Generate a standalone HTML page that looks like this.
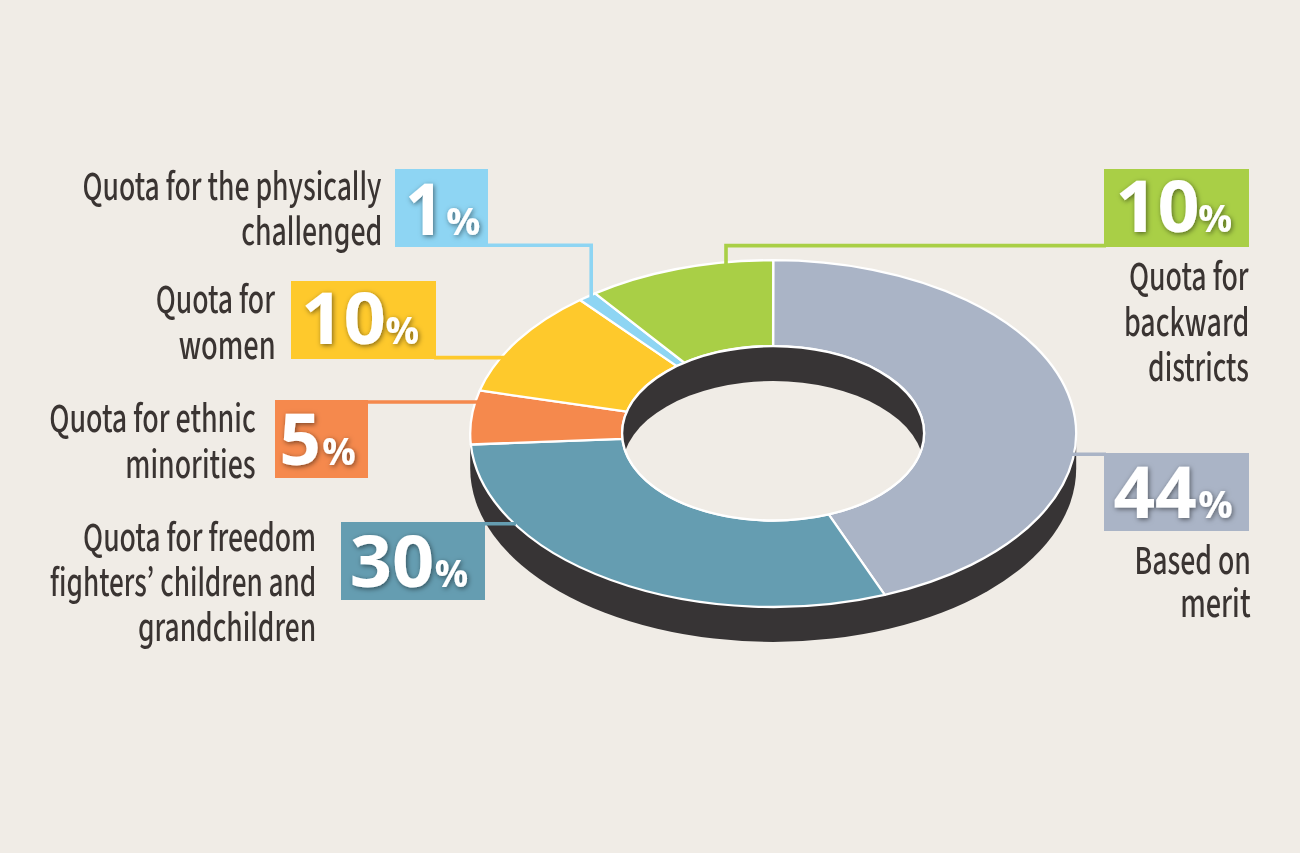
<!DOCTYPE html>
<html><head><meta charset="utf-8"><title>Quota distribution</title>
<style>
html,body{margin:0;padding:0;background:#f0ece6;}
body{width:1300px;height:853px;overflow:hidden;}
svg{display:block;will-change:transform;}
.lbl{font-family:"Source Sans 3","PT Sans Narrow","Liberation Sans",sans-serif;font-size:42.5px;font-weight:500;font-feature-settings:'cv03','cv04';fill:#3a3432;}
.num{font-family:"Open Sans","Source Sans 3","Liberation Sans",sans-serif;font-weight:700;font-size:72px;fill:#fff;}
.pct{font-size:37px;}
</style></head><body>
<svg width="1300" height="853" viewBox="0 0 1300 853">
<rect width="1300" height="853" fill="#f0ece6"/>
<path d="M470.20,433.60 L470.20,468.60 A303.0,173.4 0 0 0 1076.20,468.60 L1076.20,433.60 Z" fill="#373435"/>
<path d="M773.20,260.20 A303.0,173.4 0 0 1 884.74,594.82 L828.69,514.38 A151.00,87.20 0 0 0 773.10,346.10 Z" fill="#aab4c6" stroke="#fff" stroke-width="2.3" stroke-linejoin="round"/>
<path d="M884.74,594.82 A303.0,173.4 0 0 1 470.80,444.49 L622.40,438.78 A151.00,87.20 0 0 0 828.69,514.38 Z" fill="#659db1" stroke="#fff" stroke-width="2.3" stroke-linejoin="round"/>
<path d="M470.80,444.49 A303.0,173.4 0 0 1 479.72,390.48 L626.84,411.61 A151.00,87.20 0 0 0 622.40,438.78 Z" fill="#f5894d" stroke="#fff" stroke-width="2.3" stroke-linejoin="round"/>
<path d="M479.72,390.48 A303.0,173.4 0 0 1 580.06,299.99 L676.85,366.11 A151.00,87.20 0 0 0 626.84,411.61 Z" fill="#fec92c" stroke="#fff" stroke-width="2.3" stroke-linejoin="round"/>
<path d="M580.06,299.99 A303.0,173.4 0 0 1 595.10,293.32 L684.34,362.75 A151.00,87.20 0 0 0 676.85,366.11 Z" fill="#8ed5f3" stroke="#fff" stroke-width="2.3" stroke-linejoin="round"/>
<path d="M595.10,293.32 A303.0,173.4 0 0 1 773.20,260.20 L773.10,346.10 A151.00,87.20 0 0 0 684.34,362.75 Z" fill="#a9cf46" stroke="#fff" stroke-width="2.3" stroke-linejoin="round"/>
<clipPath id="hole"><ellipse cx="773.1" cy="433.3" rx="151.00" ry="87.20"/></clipPath>
<ellipse cx="773.1" cy="433.3" rx="151.00" ry="87.20" fill="#373435"/>
<ellipse cx="773.1" cy="468.3" rx="151.00" ry="87.20" fill="#f0ece6" clip-path="url(#hole)"/>
<ellipse cx="773.1" cy="433.3" rx="151.00" ry="87.20" fill="none" stroke="#fff" stroke-width="2.3"/>
<polyline points="486,245.3 591.2,245.3 591.2,297" fill="none" stroke="#8ed5f3" stroke-width="3.6" stroke-linejoin="miter"/>
<polyline points="434,357.6 504,357.6" fill="none" stroke="#fec92c" stroke-width="3.6" stroke-linejoin="miter"/>
<polyline points="366,402 479,402" fill="none" stroke="#f5894d" stroke-width="3.6" stroke-linejoin="miter"/>
<polyline points="483,523.8 516,523.8" fill="none" stroke="#659db1" stroke-width="3.6" stroke-linejoin="miter"/>
<polyline points="1106,245.6 726,245.6 726,265" fill="none" stroke="#a9cf46" stroke-width="3.6" stroke-linejoin="miter"/>
<polyline points="1071,454.2 1106,454.2" fill="none" stroke="#aab4c6" stroke-width="3.6" stroke-linejoin="miter"/>
<filter id="sh" x="-20%" y="-20%" width="140%" height="140%"><feDropShadow dx="1.2" dy="1.5" stdDeviation="2.8" flood-color="#000" flood-opacity="0.5"/></filter>
<rect x="395" y="169" width="93" height="78" fill="#8ed5f3"/>
<g filter="url(#sh)"><text class="num" x="404.94" y="235" textLength="38.66" lengthAdjust="spacingAndGlyphs">1</text><text class="num pct" x="446.16" y="235" textLength="34.11" lengthAdjust="spacingAndGlyphs">%</text></g>
<rect x="291" y="281" width="145" height="78" fill="#fec92c"/>
<g filter="url(#sh)"><text class="num" x="300.94" y="344" textLength="84.92" lengthAdjust="spacingAndGlyphs">10</text><text class="num pct" x="385.48" y="344" textLength="33.68" lengthAdjust="spacingAndGlyphs">%</text></g>
<rect x="275" y="400" width="93" height="78" fill="#f5894d"/>
<g filter="url(#sh)"><text class="num" x="279.15" y="465" textLength="41.77" lengthAdjust="spacingAndGlyphs">5</text><text class="num pct" x="322.38" y="465" textLength="33.57" lengthAdjust="spacingAndGlyphs">%</text></g>
<rect x="341" y="522" width="144" height="78" fill="#659db1"/>
<g filter="url(#sh)"><text class="num" x="349.84" y="587" textLength="84.51" lengthAdjust="spacingAndGlyphs">30</text><text class="num pct" x="434.69" y="587" textLength="33.46" lengthAdjust="spacingAndGlyphs">%</text></g>
<rect x="1104" y="169" width="145" height="78" fill="#a9cf46"/>
<g filter="url(#sh)"><text class="num" x="1115.38" y="232" textLength="84.26" lengthAdjust="spacingAndGlyphs">10</text><text class="num pct" x="1198.17" y="232" textLength="34.00" lengthAdjust="spacingAndGlyphs">%</text></g>
<rect x="1104" y="453" width="145" height="78" fill="#aab4c6"/>
<g filter="url(#sh)"><text class="num" x="1113.41" y="518.3" textLength="83.35" lengthAdjust="spacingAndGlyphs">44</text><text class="num pct" x="1198.15" y="518.3" textLength="34.54" lengthAdjust="spacingAndGlyphs">%</text></g>
<text class="lbl" x="82.51" y="200" textLength="298.92" lengthAdjust="spacingAndGlyphs">Quota for the physically</text>
<text class="lbl" x="241.25" y="245" textLength="141.03" lengthAdjust="spacingAndGlyphs">challenged</text>
<text class="lbl" x="155.70" y="312.5" textLength="119.28" lengthAdjust="spacingAndGlyphs">Quota for</text>
<text class="lbl" x="178.63" y="359" textLength="97.02" lengthAdjust="spacingAndGlyphs">women</text>
<text class="lbl" x="49.19" y="431.5" textLength="206.63" lengthAdjust="spacingAndGlyphs">Quota for ethnic</text>
<text class="lbl" x="125.30" y="477.7" textLength="130.20" lengthAdjust="spacingAndGlyphs">minorities</text>
<text class="lbl" x="83.10" y="551" textLength="233.03" lengthAdjust="spacingAndGlyphs">Quota for freedom</text>
<text class="lbl" x="50.11" y="595.8" textLength="266.23" lengthAdjust="spacingAndGlyphs">fighters’ children and</text>
<text class="lbl" x="137.96" y="641" textLength="178.18" lengthAdjust="spacingAndGlyphs">grandchildren</text>
<text class="lbl" x="1129.00" y="290.2" textLength="119.68" lengthAdjust="spacingAndGlyphs">Quota for</text>
<text class="lbl" x="1123.99" y="336.2" textLength="125.26" lengthAdjust="spacingAndGlyphs">backward</text>
<text class="lbl" x="1148.06" y="381.3" textLength="100.76" lengthAdjust="spacingAndGlyphs">districts</text>
<text class="lbl" x="1134.45" y="574" textLength="116.37" lengthAdjust="spacingAndGlyphs">Based on</text>
<text class="lbl" x="1180.25" y="616.8" textLength="70.33" lengthAdjust="spacingAndGlyphs">merit</text>
</svg>
</body></html>
